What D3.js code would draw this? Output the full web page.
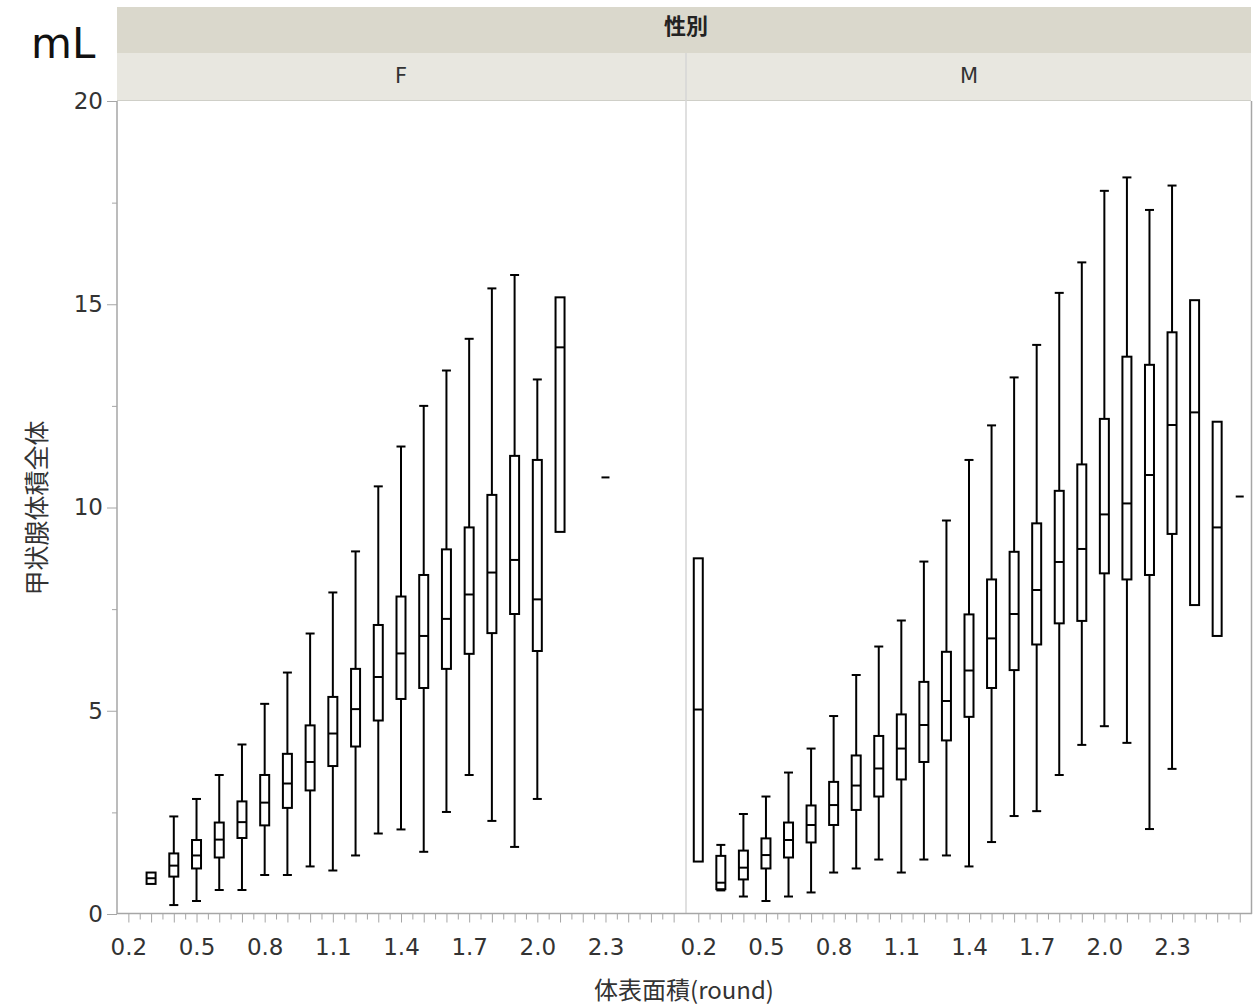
<!DOCTYPE html>
<html>
<head>
<meta charset="utf-8">
<script src="https://cdn.jsdelivr.net/npm/d3@7"></script>
<style>
  body { margin: 0; background: #fff; }
  svg { display: block; }
</style>
</head>
<body>
<div id="chart"></div>
<script>
// 体表面積(round) ごとの 甲状腺体積全体 の箱ひげ図 (性別 F / M)

// --- F ---
const catsF = [0.3, 0.4, 0.5, 0.6, 0.7, 0.8, 0.9, 1.0, 1.1, 1.2, 1.3, 1.4, 1.5, 1.6, 1.7, 1.8, 1.9, 2.0, 2.1, 2.3];
const loF  = [0.74, 0.22, 0.32, 0.59, 0.59, 0.96, 0.96, 1.17, 1.07, 1.44, 1.98, 2.08, 1.53, 2.51, 3.42, 2.29, 1.65, 2.83, 9.40, 10.74];
const q1F  = [0.74, 0.92, 1.12, 1.39, 1.87, 2.18, 2.61, 3.04, 3.64, 4.12, 4.76, 5.29, 5.56, 6.03, 6.40, 6.91, 7.38, 6.47, 9.40, 10.74];
const medF = [0.88, 1.19, 1.44, 1.83, 2.26, 2.74, 3.21, 3.74, 4.44, 5.04, 5.83, 6.41, 6.84, 7.26, 7.86, 8.40, 8.71, 7.74, 13.94, 10.74];
const q3F  = [1.02, 1.49, 1.82, 2.25, 2.77, 3.42, 3.94, 4.64, 5.34, 6.03, 7.11, 7.81, 8.34, 8.97, 9.51, 10.31, 11.27, 11.17, 15.17, 10.74];
const hiF  = [1.02, 2.40, 2.83, 3.42, 4.17, 5.17, 5.94, 6.90, 7.91, 8.92, 10.52, 11.50, 12.50, 13.37, 14.15, 15.39, 15.72, 13.15, 15.17, 10.74];

// --- M ---
const catsM = [0.2, 0.3, 0.4, 0.5, 0.6, 0.7, 0.8, 0.9, 1.0, 1.1, 1.2, 1.3, 1.4, 1.5, 1.6, 1.7, 1.8, 1.9, 2.0, 2.1, 2.2, 2.3, 2.4, 2.5, 2.6];
const loM  = [1.29, 0.58, 0.43, 0.32, 0.43, 0.53, 1.02, 1.12, 1.34, 1.02, 1.34, 1.44, 1.17, 1.77, 2.41, 2.53, 3.42, 4.16, 4.62, 4.21, 2.09, 3.57, 7.60, 6.84, 10.27];
const q1M  = [1.29, 0.61, 0.85, 1.12, 1.39, 1.76, 2.19, 2.56, 2.89, 3.31, 3.74, 4.27, 4.85, 5.56, 6.00, 6.63, 7.15, 7.21, 8.38, 8.23, 8.34, 9.35, 7.60, 6.84, 10.27];
const medM = [5.03, 0.77, 1.14, 1.45, 1.82, 2.19, 2.68, 3.16, 3.58, 4.07, 4.65, 5.24, 5.99, 6.78, 7.38, 7.97, 8.66, 8.98, 9.83, 10.10, 10.80, 12.03, 12.34, 9.51, 10.27];
const q3M  = [8.75, 1.43, 1.56, 1.86, 2.25, 2.67, 3.25, 3.90, 4.38, 4.91, 5.71, 6.45, 7.37, 8.23, 8.91, 9.61, 10.41, 11.06, 12.18, 13.71, 13.51, 14.31, 15.10, 12.11, 10.27];
const hiM  = [8.75, 1.70, 2.46, 2.89, 3.48, 4.07, 4.87, 5.88, 6.58, 7.22, 8.67, 9.68, 11.17, 12.02, 13.20, 14.00, 15.28, 16.03, 17.79, 18.12, 17.32, 17.92, 15.10, 12.11, 10.27];

const xLabels = [0.2, 0.5, 0.8, 1.1, 1.4, 1.7, 2.0, 2.3];
const yTicks = [0, 5, 10, 15, 20];
const yMinor = [2.5, 7.5, 12.5, 17.5];

function toRows(cats, lo, q1, med, q3, hi) {
  return cats.map((c, i) => ({ cat: c, lo: lo[i], q1: q1[i], med: med[i], q3: q3[i], hi: hi[i] }));
}

const panels = [
  { name: "F", x0: 117, x1: 685, rows: toRows(catsF, loF, q1F, medF, q3F, hiF) },
  { name: "M", x0: 687, x1: 1251, rows: toRows(catsM, loM, q1M, medM, q3M, hiM) }
];

const W = 1253, H = 1005;
const plotTop = 101, plotBottom = 914;
const axisGray = "#a6a6a6";
const txt = "#333";
const numFont = "'DejaVu Sans', sans-serif";
const cjkFont = "'Noto Sans CJK JP', 'Noto Sans', sans-serif";

const svg = d3.select("#chart").append("svg")
  .attr("width", W).attr("height", H);

svg.append("rect").attr("width", W).attr("height", H).attr("fill", "#fff");

const y = d3.scaleLinear().domain([0, 20]).range([plotBottom, plotTop]);

// ヘッダー帯
svg.append("rect").attr("x", 117).attr("y", 7).attr("width", 1251 - 117).attr("height", 46).attr("fill", "#dad8cc");
svg.append("rect").attr("x", 117).attr("y", 53).attr("width", 1251 - 117).attr("height", 47).attr("fill", "#e8e7e0");
svg.append("line").attr("x1", 117).attr("x2", 1251).attr("y1", 100.5).attr("y2", 100.5)
  .attr("stroke", "#cfcfc8").attr("stroke-width", 1);

svg.append("text")
  .attr("x", 686).attr("y", 34)
  .attr("text-anchor", "middle")
  .style("font-family", cjkFont).style("font-size", "22px").style("font-weight", "bold")
  .attr("fill", "#222")
  .text("性別");

// mL
svg.append("text")
  .attr("x", 31).attr("y", 58)
  .style("font-family", numFont).style("font-size", "42px")
  .attr("fill", "#111")
  .text("mL");

// パネル
panels.forEach(p => {
  const x = d3.scaleLinear().domain([0.15, 2.65]).range([p.x0, p.x1]);
  const g = svg.append("g");

  g.append("text")
    .attr("x", (p.x0 + p.x1) / 2).attr("y", 83)
    .attr("text-anchor", "middle")
    .style("font-family", numFont).style("font-size", "21px")
    .attr("fill", txt)
    .text(p.name);

  // x軸 目盛り
  const halfTicks = d3.range(0, 26).map(i => +(0.15 + i * 0.1).toFixed(2)).filter(v => v > 0.15 && v < 2.65);
  const fullTicks = d3.range(0, 26).map(i => +(0.2 + i * 0.1).toFixed(2)).filter(v => v < 2.65);

  const ax = g.append("g").attr("transform", `translate(0,${plotBottom - 0.5})`);
  ax.append("g")
    .call(d3.axisBottom(x).tickValues(halfTicks).tickSize(6).tickFormat(""))
    .call(s => s.select(".domain").remove());
  ax.append("g")
    .call(d3.axisBottom(x).tickValues(fullTicks).tickSize(9).tickPadding(16)
      .tickFormat(d => xLabels.some(v => Math.abs(v - d) < 1e-6) ? d3.format(".1f")(d) : ""))
    .call(s => s.select(".domain").remove());
  ax.selectAll("line").attr("stroke", axisGray);
  ax.selectAll("text")
    .style("font-family", numFont).style("font-size", "23px").attr("fill", txt);

  // 箱ひげ
  const bw = 9, cw = 9;
  const boxes = g.selectAll(".box").data(p.rows).enter().append("g").attr("class", "box")
    .attr("transform", d => `translate(${x(d.cat)},0)`);

  boxes.filter(d => d.hi > d.q3).append("line")
    .attr("x1", 0).attr("x2", 0).attr("y1", d => y(d.q3)).attr("y2", d => y(d.hi))
    .attr("stroke", "#000").attr("stroke-width", 2);
  boxes.filter(d => d.lo < d.q1).append("line")
    .attr("x1", 0).attr("x2", 0).attr("y1", d => y(d.q1)).attr("y2", d => y(d.lo))
    .attr("stroke", "#000").attr("stroke-width", 2);
  boxes.filter(d => d.hi > d.q3).append("line")
    .attr("x1", -cw / 2).attr("x2", cw / 2).attr("y1", d => y(d.hi)).attr("y2", d => y(d.hi))
    .attr("stroke", "#000").attr("stroke-width", 2);
  boxes.filter(d => d.lo < d.q1).append("line")
    .attr("x1", -cw / 2).attr("x2", cw / 2).attr("y1", d => y(d.lo)).attr("y2", d => y(d.lo))
    .attr("stroke", "#000").attr("stroke-width", 2);

  boxes.filter(d => d.q3 > d.q1).append("rect")
    .attr("x", -bw / 2).attr("width", bw)
    .attr("y", d => y(d.q3)).attr("height", d => y(d.q1) - y(d.q3))
    .attr("fill", "#fff").attr("stroke", "#000").attr("stroke-width", 2);

  boxes.append("line")
    .attr("x1", d => d.q3 > d.q1 ? -bw / 2 : -4).attr("x2", d => d.q3 > d.q1 ? bw / 2 : 4)
    .attr("y1", d => y(d.med)).attr("y2", d => y(d.med))
    .attr("stroke", "#000").attr("stroke-width", 2);
});

// 枠線
svg.append("line").attr("x1", 686).attr("x2", 686).attr("y1", 53).attr("y2", plotBottom)
  .attr("stroke", "#d6d6d6").attr("stroke-width", 1.5);
svg.append("line").attr("x1", 1251.5).attr("x2", 1251.5).attr("y1", plotTop).attr("y2", plotBottom)
  .attr("stroke", axisGray).attr("stroke-width", 1.5);
svg.append("line").attr("x1", 117).attr("x2", 1252).attr("y1", plotBottom - 0.5).attr("y2", plotBottom - 0.5)
  .attr("stroke", axisGray).attr("stroke-width", 1.5);

// y軸
const yAxis = svg.append("g").attr("transform", "translate(117,0)");
yAxis.append("g")
  .call(d3.axisLeft(y).tickValues(yMinor).tickSize(5).tickFormat(""))
  .call(s => s.select(".domain").remove());
yAxis.append("g")
  .call(d3.axisLeft(y).tickValues(yTicks).tickSize(10).tickPadding(4))
  .call(s => s.select(".domain").attr("stroke", axisGray).attr("stroke-width", 1.5).attr("d", `M0,${plotTop}V${plotBottom}`));
yAxis.selectAll("line").attr("stroke", axisGray);
yAxis.selectAll("text")
  .style("font-family", numFont).style("font-size", "23px").attr("fill", txt);

// 軸タイトル
svg.append("text")
  .attr("x", 684).attr("y", 999)
  .attr("text-anchor", "middle")
  .style("font-family", cjkFont).style("font-size", "24px")
  .attr("fill", txt)
  .text("体表面積(round)");

svg.append("text")
  .attr("transform", "translate(46,508) rotate(-90)")
  .attr("text-anchor", "middle")
  .style("font-family", cjkFont).style("font-size", "25px")
  .attr("fill", txt)
  .text("甲状腺体積全体");
</script>
</body>
</html>
